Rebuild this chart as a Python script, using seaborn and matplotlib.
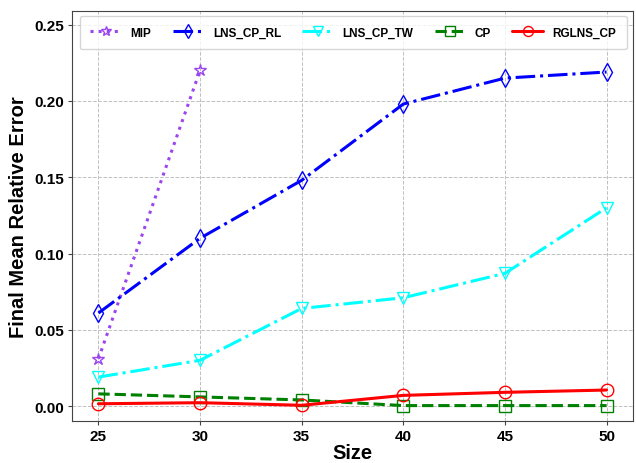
import seaborn as sns
import matplotlib.pyplot as plt

# data
sizes = [25, 30, 35, 40, 45, 50]
mip = [0.031, 0.220]
lns_cp_rl = [0.061, 0.110, 0.148, 0.198, 0.215, 0.219]
lns_cp_tw = [0.019, 0.030, 0.064, 0.071, 0.087, 0.130]
cp = [0.008, 0.006, 0.004, 0.0003, 0.0003, 0.0003]
rglns_cp = [0.0015, 0.0022, 0.0005, 0.007, 0.009, 0.0105]

sns.set_style("whitegrid", {"grid.linestyle": "--", "grid.color": "#c0c0c0",
                            "axes.edgecolor": "#444444"})
plt.rcParams["font.family"] = ["Liberation Sans", "DejaVu Sans"]
plt.rcParams["grid.linewidth"] = 0.7

fig, ax = plt.subplots(figsize=(6.36, 4.64), dpi=100)
fig.subplots_adjust(left=72/636, right=633/636, top=1-12/464, bottom=1-422/464)

series = [
    ("MIP", sizes[:2], mip, "#9b45f0", "*", ":"),
    ("LNS_CP_RL", sizes, lns_cp_rl, "blue", "d", "-."),
    ("LNS_CP_TW", sizes, lns_cp_tw, "cyan", "v", "-."),
    ("CP", sizes, cp, "green", "s", "--"),
    ("RGLNS_CP", sizes, rglns_cp, "red", "o", "-"),
]

for name, xs, ys, col, mk, ls in series:
    sns.lineplot(x=xs, y=ys, ax=ax, color=col, marker=mk, linestyle=ls,
                 linewidth=2.2, markersize=9, markerfacecolor="none",
                 markeredgecolor=col, markeredgewidth=1.0, label=name)

ax.set_xticks(sizes)
ax.set_xlim(23.7, 51.3)
ax.set_ylim(-0.0098, 0.259)
ax.set_yticks([0, 0.05, 0.10, 0.15, 0.20, 0.25])
ax.set_xlabel("Size", fontsize=14.5, fontweight="bold", labelpad=0, color="black")
ax.set_ylabel("Final Mean Relative Error", fontsize=14.5, fontweight="bold",
              labelpad=4, color="black")
for lbl in ax.get_xticklabels() + ax.get_yticklabels():
    lbl.set_fontweight("bold")
    lbl.set_fontsize(11)
    lbl.set_color("black")
ax.tick_params(axis="both", length=3, color="#444444", bottom=True, left=True, pad=3)

leg = ax.legend(ncol=5, loc="upper left", mode="expand",
                bbox_to_anchor=(0.014, 0.0, 0.975, 0.988), borderaxespad=0,
                prop={"weight": "bold", "size": 8.5}, markerscale=0.8,
                handlelength=2.6, borderpad=0.9, frameon=True)
for t in leg.get_texts():
    t.set_color("black")

plt.savefig("out.png")
